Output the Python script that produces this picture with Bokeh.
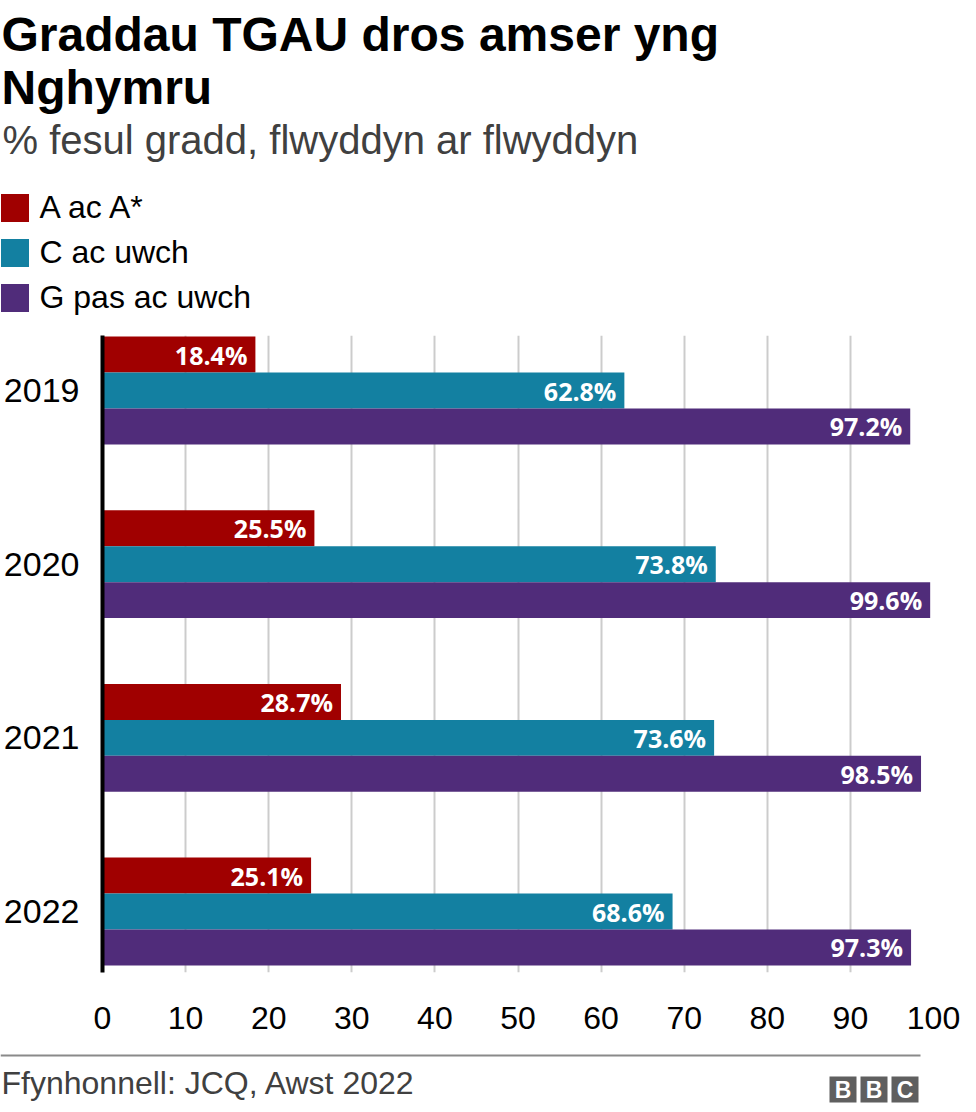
from bokeh.plotting import figure
from bokeh.layouts import column
from bokeh.models import (Range1d, FixedTicker, Label, Legend, LegendItem,
                          BoxAnnotation, ColumnDataSource)
from bokeh.core.properties import value
from bokeh.embed import file_html
from bokeh.resources import INLINE

# ---------------- data ----------------
years = ["2019", "2020", "2021", "2022"]
series_names = ["A ac A*", "C ac uwch", "G pas ac uwch"]
a_values = [18.4, 25.5, 28.7, 25.1]
c_values = [62.8, 73.8, 73.6, 68.6]
g_values = [97.2, 99.6, 98.5, 97.3]
x_ticks = [0, 10, 20, 30, 40, 50, 60, 70, 80, 90, 100]

title_lines = ["Graddau TGAU dros amser yng", "Nghymru"]
subtitle = "% fesul gradd, flwyddyn ar flwyddyn"
source_text = "Ffynhonnell: JCQ, Awst 2022"
logo_letters = ["B", "B", "C"]

colors = ["#a00000", "#1380a1", "#502c7a"]

# ---------------- layout constants ----------------
W = 976
HEAD_H = 330            # header strip height
MAIN_H = 722            # chart strip height
FOOT_H = 60             # footer strip height
BAR_H = 0.207
FONT = "Liberation Sans"


def blank_fig(h):
    f = figure(width=W, height=h, output_backend="svg", toolbar_location=None,
               title=None, x_axis_location=None, y_axis_location=None,
               x_range=Range1d(0, W), y_range=Range1d(h, 0),
               min_border=0, frame_align=False)
    f.grid.visible = False
    f.outline_line_color = None
    f.background_fill_color = "white"
    f.border_fill_color = "white"
    return f


def lab(f, text, x, y, size_px, color="#000000", style="normal", align="left"):
    # y is the wanted baseline; compensate the renderer's baseline shift
    f.add_layout(Label(x=x, y=y - 0.36 * size_px, text=text, text_font=FONT,
                       text_font_size=f"{size_px}px", text_font_style=style,
                       text_color=color, text_align=align,
                       text_baseline="alphabetic"))


# ---------------- header ----------------
head = blank_fig(HEAD_H)
lab(head, title_lines[0], 1, 51, 48, "#000000", "bold")
lab(head, title_lines[1], 1, 104, 48, "#000000", "bold")
lab(head, subtitle, 2, 154, 40, "#404040")

# zero-size bars that only serve as legend keys
keys = []
for col in colors:
    keys.append(head.hbar(y=[0], left=[0], right=[0], height=0,
                          fill_color=col, line_color=None))
legend = Legend(items=[LegendItem(label=n, renderers=[r])
                       for n, r in zip(series_names, keys)],
                location=(-3.5, 14), orientation="vertical",
                glyph_width=35, glyph_height=35, label_standoff=8,
                spacing=8, padding=0, margin=0,
                label_text_font=FONT, label_text_font_size="32px",
                label_text_color="#000000",
                border_line_color=None, background_fill_alpha=0)
head.add_layout(legend, "center")

# ---------------- main chart ----------------
p = figure(width=W, height=MAIN_H, output_backend="svg", toolbar_location=None,
           title=None,
           x_range=Range1d(0, 100), y_range=Range1d(3.351, -0.3167),
           min_border_left=101, min_border_right=43,
           min_border_top=5, min_border_bottom=80)
p.outline_line_color = None
p.background_fill_color = "white"
p.border_fill_color = "white"

p.ygrid.grid_line_color = None
p.xgrid.ticker = FixedTicker(ticks=x_ticks)
p.xgrid.grid_line_color = "#cccccc"
p.xgrid.grid_line_width = 2

p.xaxis.ticker = FixedTicker(ticks=x_ticks)
p.xaxis.axis_line_color = None
p.xaxis.major_tick_line_color = None
p.xaxis.minor_tick_line_color = None
p.xaxis.major_tick_out = 0
p.xaxis.major_label_standoff = 34
p.xaxis.major_label_text_font = FONT
p.xaxis.major_label_text_font_size = "32px"
p.xaxis.major_label_text_color = "#000000"

idx = list(range(len(years)))
p.yaxis.ticker = FixedTicker(ticks=idx)
p.yaxis.major_label_overrides = {i: y for i, y in zip(idx, years)}
p.yaxis.axis_line_color = "#000000"
p.yaxis.axis_line_width = 4
p.yaxis.major_tick_line_color = None
p.yaxis.minor_tick_line_color = None
p.yaxis.major_tick_out = 0
p.yaxis.major_label_standoff = 23
p.yaxis.major_label_text_font = FONT
p.yaxis.major_label_text_font_size = "34px"
p.yaxis.major_label_text_color = "#000000"

for k, (vals, col) in enumerate(zip([a_values, c_values, g_values], colors)):
    pos = [i + (k - 1) * BAR_H for i in idx]
    src = ColumnDataSource(dict(y=pos, v=vals,
                                lab=[f"{v:.1f}%" for v in vals]))
    p.hbar(y="y", left=0, right="v", height=BAR_H, source=src,
           fill_color=col, line_color=None)
    p.text(x="v", y="y", text="lab", source=src, x_offset=-8,
           text_align="right", text_baseline="middle",
           text_color="white", text_font=value("Open Sans"),
           text_font_style="bold", text_font_size="25px")

# ---------------- footer ----------------
foot = blank_fig(FOOT_H)
foot.add_layout(BoxAnnotation(left=0, right=920, top=2, bottom=4,
                              fill_color="#8a8a8a", fill_alpha=1,
                              line_color=None))
lab(foot, source_text, 1, 42, 32, "#404040")
for j, letter in enumerate(logo_letters):
    l0 = 829 + j * 31
    foot.add_layout(BoxAnnotation(left=l0, right=l0 + 27, top=24, bottom=50,
                                  fill_color="#5f5f5f", fill_alpha=1,
                                  line_color=None))
    lab(foot, letter, l0 + 13.5, 45.5, 23, "#ffffff", "bold", "center")

layout = column(head, p, foot, spacing=0)
open("out.html", "w").write(file_html(layout, INLINE))
